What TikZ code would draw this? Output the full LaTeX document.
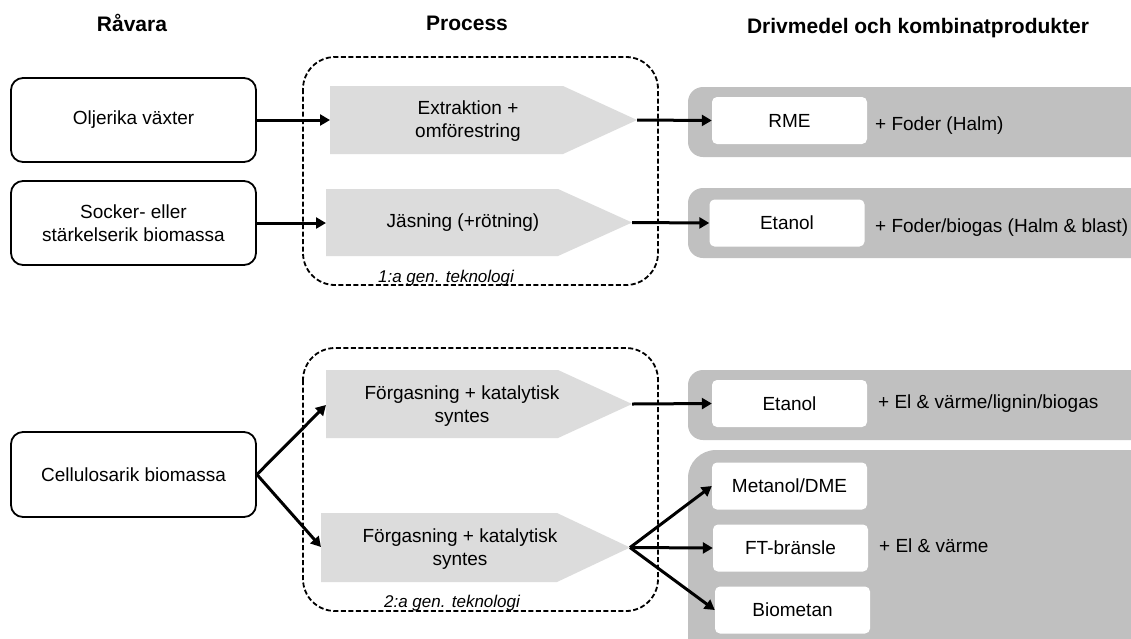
\documentclass[tikz,border=0pt]{standalone}
\usepackage{fontspec}
\setmainfont{Liberation Sans}
\usetikzlibrary{arrows.meta}
\definecolor{procgray}{RGB}{220,220,220}
\definecolor{panelgray}{RGB}{192,192,192}
\newcommand\bodyfont{\fontsize{19}{23}\selectfont}
\newcommand\headfont{\fontsize{21}{25}\selectfont\bfseries}
\newcommand\genfont{\fontsize{17}{20}\selectfont\itshape}
\tikzset{
  rawbox/.style={draw, line width=1.8pt, rounded corners=12pt, fill=white,
    minimum width=245pt, minimum height=84pt, align=center, font=\bodyfont, inner sep=0pt},
  prodbox/.style={fill=white, rounded corners=5pt, minimum width=155pt,
    minimum height=47pt, font=\bodyfont, inner sep=0pt},
  ptext/.style={align=center, font=\bodyfont, inner sep=0pt},
  lbl/.style={anchor=base west, font=\bodyfont, inner sep=0pt},
  head/.style={font=\headfont, inner sep=0pt},
  gen/.style={anchor=base, font=\genfont, inner sep=0pt},
  grp/.style={draw, line width=1.8pt, dash pattern=on 5pt off 2.5pt, rounded corners=32pt},
  flow/.style={line width=3pt, -{Triangle[length=10pt,width=11pt]}},
}
\begin{document}
\begin{tikzpicture}[x=1pt,y=-1pt]
\clip (0,0) rectangle (1131,638);
\fill[white] (0,0) rectangle (1131,638);

% headings
\node[head] (h1) at (132,23) {Råvara};
\node[head] (h2) at (467,23) {Process};
\node[head] (h3) at (918,28) {Drivmedel och kombinatprodukter};

% right panels
\fill[panelgray, rounded corners=15pt] (688,87) rectangle (1170,157);
\fill[panelgray, rounded corners=15pt] (688,188) rectangle (1170,258);
\fill[panelgray, rounded corners=15pt] (688,370) rectangle (1170,440);
\fill[panelgray, rounded corners=28pt] (688,450) rectangle (1170,690);

% dashed groups
\draw[grp] (303,57) rectangle (658,285);
\draw[grp] (303,348) rectangle (658,611);

% process shapes
\fill[procgray] (330,86) -- (563,86) -- (637,120) -- (563,154) -- (330,154) -- cycle;
\fill[procgray] (326,189) -- (558,189) -- (632,222.5) -- (558,256) -- (326,256) -- cycle;
\fill[procgray] (326,370) -- (558,370) -- (632,404) -- (558,438) -- (326,438) -- cycle;
\fill[procgray] (321,513) -- (557,513) -- (630,547.5) -- (557,582) -- (321,582) -- cycle;
\coordinate (p1in) at (330,120);
\coordinate (p1tip) at (637,120);
\coordinate (p2in) at (326,223);
\coordinate (p2tip) at (632,222.5);
\coordinate (p3in) at (326,405);
\coordinate (p3tip) at (632,404);
\coordinate (p4in) at (321,547);
\coordinate (p4tip) at (630,547.5);

\node[ptext] (t1) at (468,121.5) {Extraktion +\\omförestring};
\node[ptext] (t2) at (463,223) {Jäsning (+rötning)};
\node[ptext] (t3) at (462,406.5) {Förgasning + katalytisk\\syntes};
\node[ptext] (t4) at (460,549.5) {Förgasning + katalytisk\\syntes};

\node[gen] (g1) at (446,282) {1:a gen. teknologi};
\node[gen] (g2) at (452,607) {2:a gen. teknologi};

% raw material boxes
\node[rawbox] (b1) at (133.5,120) {Oljerika växter};
\node[rawbox] (b2) at (133.5,223) {Socker- eller\\stärkelserik biomassa};
\node[rawbox, minimum height=85pt] (b3) at (133.5,474.5) {Cellulosarik biomassa};

% product boxes
\node[prodbox] (rme) at (789.5,120.5) {RME};
\node[prodbox] (et1) at (787,223) {Etanol};
\node[prodbox] (et2) at (789.5,403.5) {Etanol};
\node[prodbox] (met) at (789.5,486) {Metanol/DME};
\node[prodbox] (ft) at (790.5,548) {FT-bränsle};
\node[prodbox] (bio) at (792.5,610) {Biometan};

% side labels
\node[lbl] (l1) at (875,130) {+ Foder (Halm)};
\node[lbl] (l2) at (875,232) {+ Foder/biogas (Halm \& blast)};
\node[lbl] (l3) at (878,408) {+ El \& värme/lignin/biogas};
\node[lbl] (l4) at (879,552) {+ El \& värme};

% connectors
\draw[flow] (b1.east) -- (p1in);
\draw[flow] (b2.east) -- (p2in);
\draw[flow] (b3.east) -- (p3in);
\draw[flow] (b3.east) -- (p4in);
\draw[flow] (p1tip) -- (rme.west);
\draw[flow] (p2tip) -- (et1.west);
\draw[flow] (p3tip) -- (et2.west);
\draw[flow] (p4tip) -- (met.west);
\draw[flow] (p4tip) -- (ft.west);
\draw[flow] (p4tip) -- (bio.west);
\end{tikzpicture}
\end{document}
